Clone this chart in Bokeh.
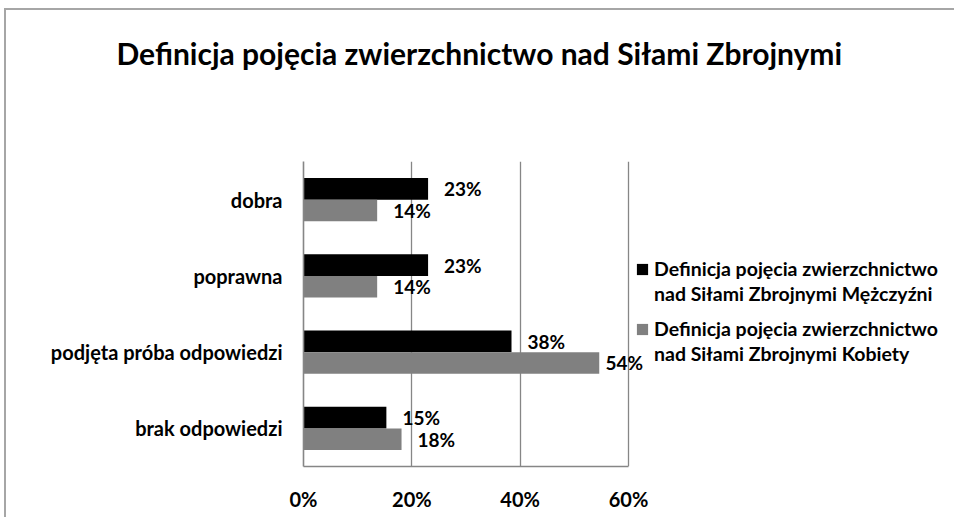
from bokeh.plotting import figure
from bokeh.models import (ColumnDataSource, FactorRange, Range1d, LabelSet,
                          Legend, LegendItem, FixedTicker, PrintfTickFormatter)
from bokeh.transform import dodge
from bokeh.core.properties import value
from bokeh.embed import file_html
from bokeh.resources import INLINE

# ---- data ----
title_text = "Definicja pojęcia zwierzchnictwo nad Siłami Zbrojnymi"
categories = ["dobra", "poprawna", "podjęta próba odpowiedzi", "brak odpowiedzi"]
men = [23.0, 23.0, 38.4, 15.3]
women = [13.6, 13.6, 54.6, 18.1]
men_labels = ["23%", "23%", "38%", "15%"]
women_labels = ["14%", "14%", "54%", "18%"]
x_ticks = [0, 20, 40, 60]
legend_men = ["Definicja pojęcia zwierzchnictwo", "nad Siłami Zbrojnymi Mężczyźni"]
legend_women = ["Definicja pojęcia zwierzchnictwo", "nad Siłami Zbrojnymi Kobiety"]

# ---- layout constants ----
FONT = "Lato"
W, H = 950, 509
AX_MAX = 60                 # axis end (60%)
PX_PER = 325 / 60           # pixels per percent point
ML, MR, MT, MB = 297, 0, 151, 53
frame_w = W - ML - MR
XMAX = frame_w / PX_PER     # frame reaches the right edge (legend lives there)
BAR_H = 0.283
DODGE = BAR_H / 2
LBL_OFF = 16
LBL_W = 37
RIGHT_LIMIT = AX_MAX * PX_PER + 14


def offsets(vals):
    out = []
    for v in vals:
        px = v * PX_PER
        out.append(min(LBL_OFF, RIGHT_LIMIT - px - LBL_W))
    return out


src = ColumnDataSource(dict(
    cat=categories, men=men, women=women,
    men_lbl=men_labels, women_lbl=women_labels,
    men_off=offsets(men), women_off=offsets(women),
))

p = figure(width=W, height=H,
           y_range=FactorRange(factors=categories[::-1]),
           x_range=Range1d(0, XMAX),
           output_backend="svg", toolbar_location=None,
           min_border_left=ML, min_border_right=MR,
           min_border_top=MT, min_border_bottom=MB)
p.styles = {"margin-left": "4px", "margin-top": "8px",
            "border-top": "2px solid #a6a6a6", "border-left": "2px solid #a6a6a6"}
p.outline_line_color = None
p.background_fill_color = "white"
p.border_fill_color = "white"

r_men = p.hbar(y=dodge("cat", DODGE, range=p.y_range), right="men", left=0,
               height=BAR_H, source=src, fill_color="#000000", line_color=None)
r_women = p.hbar(y=dodge("cat", -DODGE, range=p.y_range), right="women", left=0,
                 height=BAR_H, source=src, fill_color="#808080", line_color=None)

for xf, yd, tf, of in (("men", DODGE, "men_lbl", "men_off"),
                       ("women", -DODGE, "women_lbl", "women_off")):
    p.add_layout(LabelSet(x=xf, y=dodge("cat", yd, range=p.y_range), text=tf,
                          x_offset=of, source=src,
                          text_font=value(FONT), text_font_style="bold",
                          text_font_size="19px", text_color="#000000",
                          text_baseline="middle", text_align="left"))

# grid / axes
p.ygrid.grid_line_color = None
p.xgrid.grid_line_color = "#868686"
p.xgrid.grid_line_width = 1.3
p.xaxis.ticker = FixedTicker(ticks=x_ticks)
p.xaxis.formatter = PrintfTickFormatter(format="%d%%")
p.xaxis.bounds = (0, AX_MAX)
for ax in (p.xaxis[0], p.yaxis[0]):
    ax.axis_line_color = "#868686"
    ax.axis_line_width = 1.6
    ax.major_tick_line_color = None
    ax.minor_tick_line_color = None
    ax.major_tick_out = 0
    ax.major_tick_in = 0
    ax.major_label_text_font = FONT
    ax.major_label_text_font_style = "bold"
    ax.major_label_text_color = "#000000"
p.xaxis.major_label_text_font_size = "20px"
p.xaxis.major_label_standoff = 20
p.yaxis.major_label_text_font_size = "20px"
p.yaxis.major_label_standoff = 21

# title (two empty trailing lines lift it towards the top of the chart)
p.title.text = title_text + "\n\n"
p.title.align = "left"
p.title.offset = -187
p.title.vertical_align = "top"
p.title.standoff = 34
p.title.text_font = FONT
p.title.text_font_style = "bold"
p.title.text_font_size = "30px"
p.title.text_color = "#000000"

# legends: one block per series, two lines each
def make_legend(renderer, lines, vy):
    items = [LegendItem(label=value(lines[0]), renderers=[renderer]),
             LegendItem(label=value(lines[1]), renderers=[])]
    lg = Legend(items=items, location=(332, vy), orientation="vertical",
                glyph_width=14, glyph_height=14, label_standoff=5,
                label_height=25, spacing=0, padding=0, margin=0,
                border_line_color=None, background_fill_alpha=0,
                label_text_font=FONT, label_text_font_style="bold",
                label_text_font_size="19.5px", label_text_color="#000000")
    p.add_layout(lg)

make_legend(r_men, legend_men, 160)
make_legend(r_women, legend_women, 100)

open("out.html", "w").write(file_html(p, INLINE))
